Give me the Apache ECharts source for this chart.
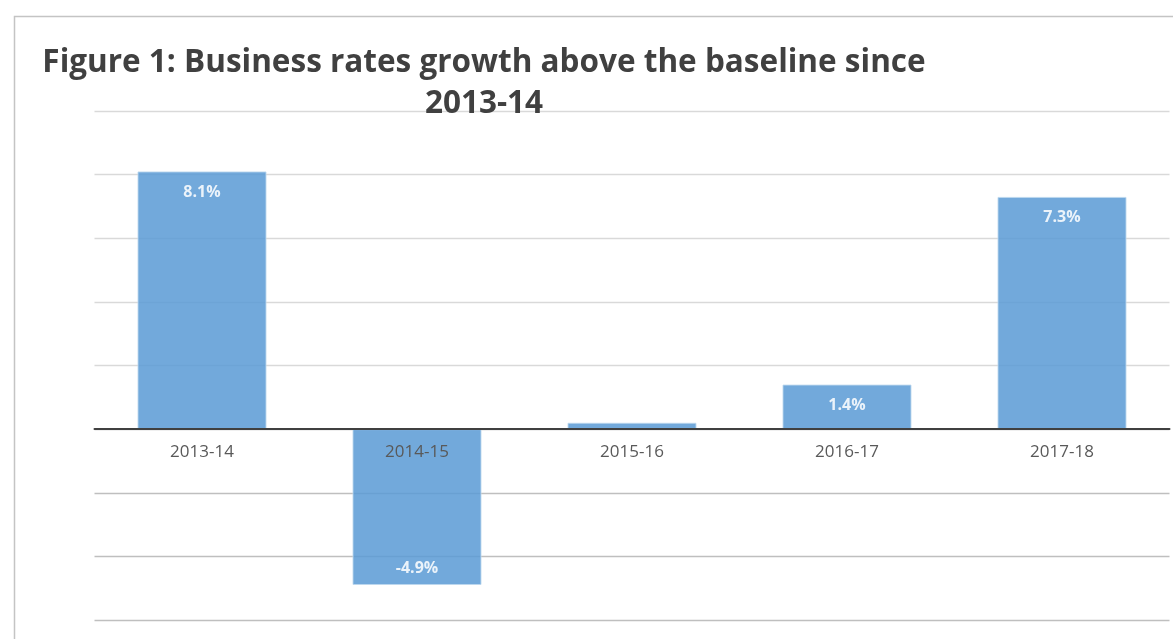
<!DOCTYPE html>
<html>
<head>
<meta charset="utf-8">
<script src="https://cdn.jsdelivr.net/npm/echarts@6/dist/echarts.min.js"></script>
<style>
html,body{margin:0;padding:0;background:#fff;}
#chart{width:1173px;height:639px;}
</style>
</head>
<body>
<div id="chart"></div>
<script>
const titleText = 'Figure 1: Business rates growth above the baseline since\n2013-14';
const categories = ['2013-14', '2014-15', '2015-16', '2016-17', '2017-18'];
const growthValues = [8.1, -4.9, 0.2, 1.4, 7.3];
const showLabel = [true, true, false, true, true];

const chart = echarts.init(document.getElementById('chart'));
const gridColors = ['#bfbfbf','#bfbfbf','#bfbfbf','#bfbfbf','#d9d9d9','#d9d9d9','#d9d9d9','#d9d9d9','#d9d9d9'];
const gridTop = 111, gridBottom = 19, yMin = -6, yMax = 10;
const plotH = 639 - gridTop - gridBottom;
const zeroOffset = -plotH * (0 - yMin) / (yMax - yMin);

chart.setOption({
  backgroundColor: '#ffffff',
  animation: false,
  graphic: [{
    type: 'rect',
    left: 12, top: 14,
    shape: { width: 1200, height: 700 },
    style: { fill: 'none', stroke: '#c4c4c4', lineWidth: 1.5 },
    z: 0
  }],
  title: {
    text: titleText,
    left: 479, top: 38,
    textAlign: 'center',
    textStyle: {
      fontFamily: 'Open Sans', fontWeight: 'bold', fontSize: 31.5,
      color: '#404040', lineHeight: 41
    }
  },
  grid: { left: 94.5, right: 3.5, top: gridTop, bottom: gridBottom, outerBoundsMode: 'none', containLabel: false },
  xAxis: {
    type: 'category',
    data: categories,
    position: 'bottom',
    offset: zeroOffset,
    axisLine: { onZero: false, lineStyle: { color: '#404040', width: 2 } },
    axisTick: { show: false },
    axisLabel: { margin: 15, fontFamily: 'Open Sans', fontSize: 17, color: '#595959' },
    z: 5
  },
  yAxis: {
    type: 'value',
    min: yMin, max: yMax, interval: 2,
    axisLabel: { show: false },
    axisLine: { show: false },
    axisTick: { show: false },
    splitLine: { lineStyle: { color: gridColors, width: 1.3 } }
  },
  series: [{
    type: 'bar',
    barWidth: '60%',
    data: growthValues.map((v, i) => ({
      value: v,
      label: {
        show: showLabel[i],
        position: v >= 0 ? 'insideTop' : 'insideBottom',
        distance: v >= 0 ? 13 : 9
      }
    })),
    itemStyle: { color: '#5b9bd5', opacity: 0.86, borderColor: '#bdd7ee', borderWidth: 1 },
    label: {
      formatter: p => p.value.toFixed(1) + '%',
      color: '#ffffff', fontFamily: 'Open Sans', fontWeight: 'bold', fontSize: 16
    }
  }]
});
</script>
</body>
</html>
